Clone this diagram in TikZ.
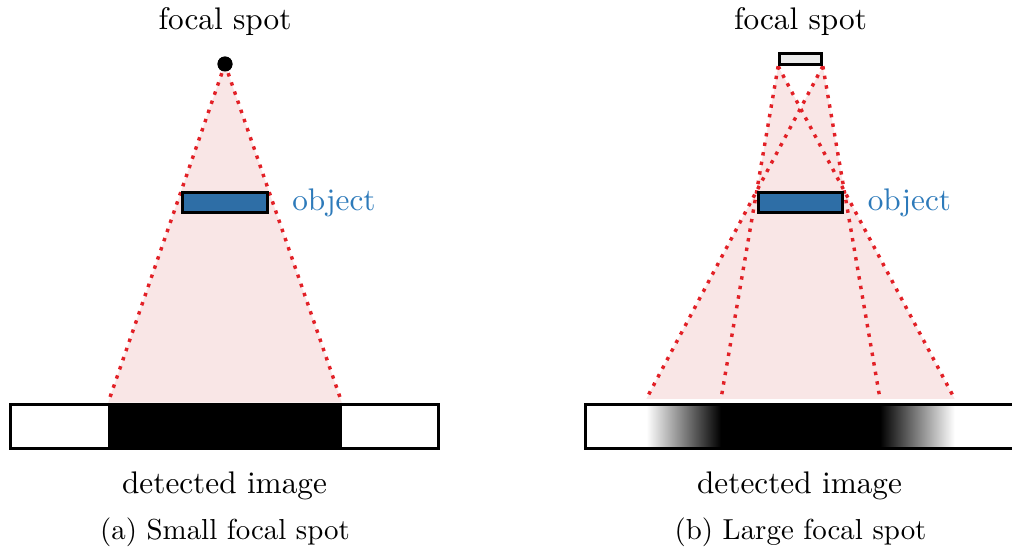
\documentclass[tikz,border=0pt]{standalone}
\usetikzlibrary{positioning,calc}
\definecolor{objblue}{RGB}{46,110,166}
\definecolor{objtext}{RGB}{45,122,186}
\definecolor{beamred}{RGB}{226,32,38}
\definecolor{conepink}{RGB}{249,230,230}
\def \beamReach {2.67}
\def \labelGap {4pt}
\tikzset{
	cone/.style= {fill=conepink, draw=none},
	beam/.style= {draw=beamred, line width=1.1pt, dotted},
	object/.style= {draw, rectangle, line width=1pt, fill=objblue, minimum width=27pt, minimum height=6.5pt, inner sep=0pt},
	objlabel/.style= {text=objtext, anchor=west},
	detector/.style= {rectangle, fill=white, minimum width=136.5pt, minimum height=13.5pt, inner sep=0pt},
	frame/.style= {draw, line width=1pt},
	spotdot/.style= {circle, fill, inner sep=0pt, minimum size=4.8pt},
	spotbox/.style= {draw, rectangle, line width=1pt, fill=gray!15, minimum width=13.3pt, minimum height=3.6pt, inner sep=0pt},
	caption/.style= {scale=0.925, transform shape}
}
\begin{document}
\begin{tikzpicture}[x=0.32pt, y=-0.32pt]
\useasboundingbox (0,0) rectangle (1012,549);

%%%%%%%%%%%%%%%%%%%%% (a) small focal spot %%%%%%%%%%%%%%%%%%%%%
	\node [spotdot] (a_spot) at (225,64) {};
	\node [object] (a_obj) at (225,202.5) {};
	\coordinate (a_l) at ($(a_spot.center)!\beamReach!(a_obj.north west)$);
	\coordinate (a_r) at ($(a_spot.center)!\beamReach!(a_obj.north east)$);
	\fill [cone] (a_spot.center) -- (a_l) -- (a_r) -- cycle;
	\draw [beam] (a_spot.center) -- (a_l);
	\draw [beam] (a_spot.center) -- (a_r);
	\node [object] at (a_obj) {};
	\node [spotdot] at (a_spot) {};

	\node [detector] (a_det) at (224.5,426.5) {};
	\fill (a_l |- a_det.north) rectangle (a_r |- a_det.south);
	\draw [frame] (a_det.north west) rectangle (a_det.south east);

	\node [objlabel, right =\labelGap of a_obj] (a_objl) {object};
	\node (a_fs) at (225,22) {focal spot};
	\node [below =\labelGap of a_det] (a_img) {detected image};
	\node [caption] (a_cap) at (225,532) {(a) Small focal spot};

%%%%%%%%%%%%%%%%%%%%% (b) large focal spot %%%%%%%%%%%%%%%%%%%%%
	\node [spotbox] (b_spot) at (800.5,59) {};
	\node [object] (b_obj) at (800.5,202.5) {};
	% outer and inner edges of the blur
	\coordinate (b_lo) at ($(b_spot.south east)!\beamReach!(b_obj.north west)$);
	\coordinate (b_li) at ($(b_spot.south west)!\beamReach!(b_obj.north west)$);
	\coordinate (b_ri) at ($(b_spot.south east)!\beamReach!(b_obj.north east)$);
	\coordinate (b_ro) at ($(b_spot.south west)!\beamReach!(b_obj.north east)$);
	\fill [cone] (b_spot.south west) -- (b_li) -- (b_ro) -- cycle;
	\fill [cone] (b_spot.south east) -- (b_lo) -- (b_ri) -- cycle;
	\draw [beam] (b_spot.south east) -- (b_lo);
	\draw [beam] (b_spot.south west) -- (b_li);
	\draw [beam] (b_spot.south east) -- (b_ri);
	\draw [beam] (b_spot.south west) -- (b_ro);
	\node [object] at (b_obj) {};
	\node [spotbox] at (b_spot) {};

	\node [detector] (b_det) at (799.5,426.5) {};
	\shade [left color=white, right color=black] (b_lo |- b_det.north) rectangle (b_li |- b_det.south);
	\fill (b_li |- b_det.north) rectangle (b_ri |- b_det.south);
	\shade [left color=black, right color=white] (b_ri |- b_det.north) rectangle (b_ro |- b_det.south);
	\draw [frame] (b_det.north west) rectangle (b_det.south east);

	\node [objlabel, right =\labelGap of b_obj] (b_objl) {object};
	\node (b_fs) at (800.5,22) {focal spot};
	\node [below =\labelGap of b_det] (b_img) {detected image};
	\node [caption] (b_cap) at (800.5,532) {(b) Large focal spot};

\end{tikzpicture}
\end{document}
